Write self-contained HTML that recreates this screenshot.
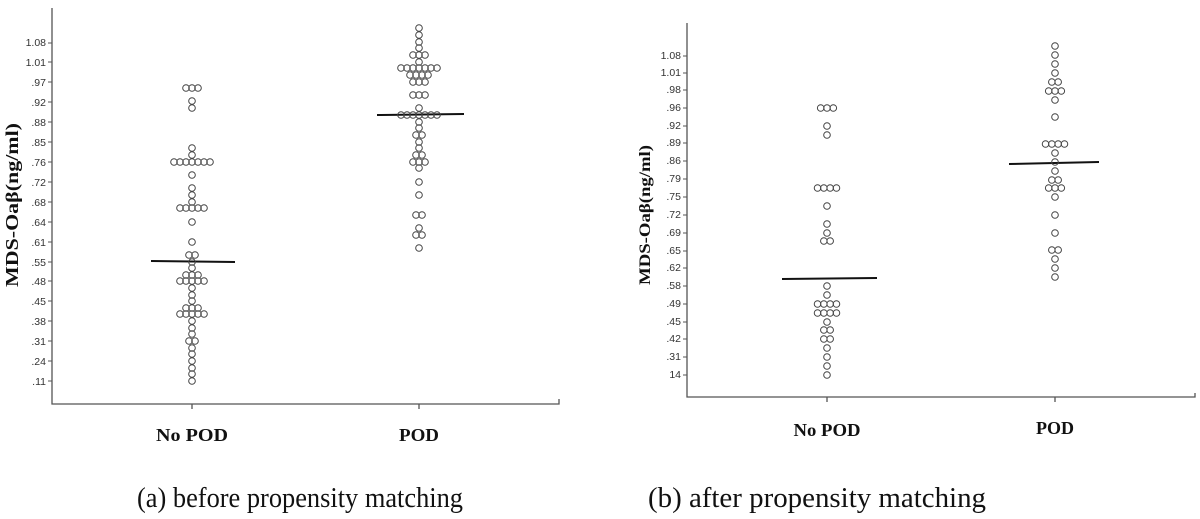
<!DOCTYPE html>
<html><head><meta charset="utf-8"><style>
body{margin:0;background:#fff;}
svg{display:block;}
.t{font-family:"Liberation Sans",sans-serif;font-size:10.5px;fill:#333;}
.b{font-family:"Liberation Serif",serif;font-weight:bold;font-size:18px;fill:#111;}
.c{font-family:"Liberation Serif",serif;font-size:29px;fill:#111;}
</style></head><body>
<svg id="s" width="1200" height="519" viewBox="0 0 1200 519" xmlns="http://www.w3.org/2000/svg">
<g stroke="#555" stroke-width="1.3" fill="none">
<path d="M52 8 V404 H559 V399"/>
<path d="M192 404 v5 M419 404 v5"/>
<path d="M687 23 V397 H1195 V393"/>
<path d="M827 397 v5 M1055 397 v5"/>
</g>
<g stroke="#111" stroke-width="2">
<line x1="151" y1="261" x2="235" y2="262"/>
<line x1="377" y1="115" x2="464" y2="114"/>
<line x1="782" y1="279" x2="877" y2="278"/>
<line x1="1009" y1="164" x2="1099" y2="162"/>
</g>
<g id="ticks"></g>
<g id="pts" fill="none" stroke="#444" stroke-width="1"></g>
<text class="b" transform="translate(18,205) rotate(-90)" text-anchor="middle" textLength="164" lengthAdjust="spacingAndGlyphs">MDS-Oaβ(ng/ml)</text>
<text class="b" style="font-size:16px" transform="translate(650,215) rotate(-90)" text-anchor="middle" textLength="140" lengthAdjust="spacingAndGlyphs">MDS-Oaβ(ng/ml)</text>
<text class="b" x="192" y="441" text-anchor="middle" textLength="72" lengthAdjust="spacingAndGlyphs">No POD</text>
<text class="b" x="419" y="441" text-anchor="middle" textLength="40" lengthAdjust="spacingAndGlyphs">POD</text>
<text class="b" x="827" y="436" text-anchor="middle" textLength="67" lengthAdjust="spacingAndGlyphs">No POD</text>
<text class="b" x="1055" y="434" text-anchor="middle" textLength="38" lengthAdjust="spacingAndGlyphs">POD</text>
<text class="c" x="137" y="507" textLength="326" lengthAdjust="spacingAndGlyphs">(a) before propensity matching</text>
<text class="c" x="648" y="507" textLength="338" lengthAdjust="spacingAndGlyphs">(b) after propensity matching</text>
<g class="t" text-anchor="end">
<text x="46" y="46">1.08</text><text x="46" y="66">1.01</text><text x="46" y="86">.97</text><text x="46" y="106">.92</text><text x="46" y="126">.88</text><text x="46" y="146">.85</text><text x="46" y="166">.76</text><text x="46" y="186">.72</text><text x="46" y="206">.68</text><text x="46" y="226">.64</text><text x="46" y="246">.61</text><text x="46" y="266">.55</text><text x="46" y="285">.48</text><text x="46" y="305">.45</text><text x="46" y="325">.38</text><text x="46" y="345">.31</text><text x="46" y="365">.24</text><text x="46" y="385">.11</text>
<text x="681" y="59">1.08</text><text x="681" y="76">1.01</text><text x="681" y="93">.98</text><text x="681" y="111">.96</text><text x="681" y="129">.92</text><text x="681" y="146">.89</text><text x="681" y="164">.86</text><text x="681" y="182">.79</text><text x="681" y="200">.75</text><text x="681" y="218">.72</text><text x="681" y="236">.69</text><text x="681" y="254">.65</text><text x="681" y="271">.62</text><text x="681" y="289">.58</text><text x="681" y="307">.49</text><text x="681" y="325">.45</text><text x="681" y="342">.42</text><text x="681" y="360">.31</text><text x="681" y="378">14</text>
</g>
</svg>
<script>
var ns="http://www.w3.org/2000/svg",P=document.getElementById('pts'),T=document.getElementById('ticks');
function tick(x,ys){ys.forEach(function(y){var l=document.createElementNS(ns,'line');l.setAttribute('x1',x-4);l.setAttribute('x2',x);l.setAttribute('y1',y);l.setAttribute('y2',y);l.setAttribute('stroke','#555');T.appendChild(l);});}
tick(52,[43,62,82,102,122,142,162,182,202,222,242,262,281,301,321,341,361,381]);
tick(687,[56,73,90,108,126,143,161,179,197,215,233,251,268,286,304,322,339,357,375]);
function col(cx,rows,sp,r){rows.forEach(function(rw){var y=rw[0],n=rw[1];for(var i=0;i<n;i++){var c=document.createElementNS(ns,'circle');c.setAttribute('cx',cx+(i-(n-1)/2)*sp);c.setAttribute('cy',y);c.setAttribute('r',r);P.appendChild(c);}});}
col(192,[[88,3],[101,1],[108,1],[148,1],[155,1],[162,7],[175,1],[188,1],[195,1],[202,1],[208,5],[222,1],[242,1],[255,2],[262,1],[268,1],[275,3],[281,5],[288,1],[295,1],[301,1],[308,3],[314,5],[321,1],[328,1],[334,1],[341,2],[348,1],[354,1],[361,1],[368,1],[374,1],[381,1]],6,3.3);
col(419,[[28,1],[35,1],[42,1],[48,1],[55,3],[62,1],[68,7],[75,4],[82,3],[95,3],[108,1],[115,7],[122,1],[128,1],[135,2],[142,1],[148,1],[155,2],[162,3],[168,1],[182,1],[195,1],[215,2],[228,1],[235,2],[248,1]],6,3.3);
col(827,[[108,3],[126,1],[135,1],[188,4],[206,1],[224,1],[233,1],[241,2],[286,1],[295,1],[304,4],[313,4],[322,1],[330,2],[339,2],[348,1],[357,1],[366,1],[375,1]],6.3,3.3);
col(1055,[[46,1],[55,1],[64,1],[73,1],[82,2],[91,3],[100,1],[117,1],[144,4],[153,1],[162,1],[171,1],[180,2],[188,3],[197,1],[215,1],[233,1],[250,2],[259,1],[268,1],[277,1]],6.3,3.3);
</script>
</body></html>
